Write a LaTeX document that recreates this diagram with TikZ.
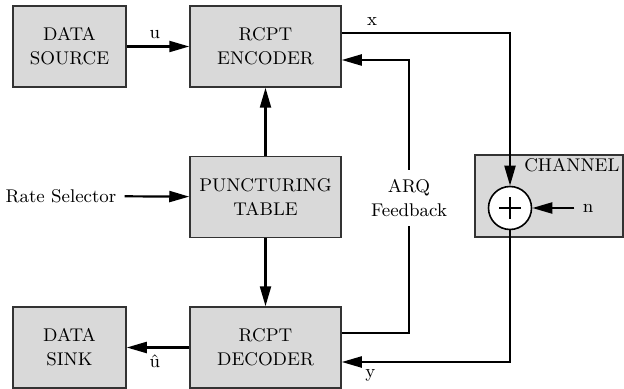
\documentclass[tikz,border=0pt]{standalone}
\usepackage{amsmath}
\usepackage{xcolor}
\usepackage{tikz}
\usetikzlibrary{arrows.meta}
\definecolor{boxgray}{RGB}{217,217,217}

\begin{document}
\begin{tikzpicture}[x=0.5pt,y=-0.5pt,
                    font=\fontsize{9.2}{12}\selectfont,
                    blk/.style={draw=black!80, fill=boxgray, line width=0.75pt, minimum height=40.5pt, align=center, inner sep=0pt},
                    arr/.style={line width=1.1pt, -{Triangle[length=10pt,width=5.5pt]}},
                    ln/.style={line width=1.1pt}]
                    \useasboundingbox (0,0) rectangle (624,389);

                    \node[blk, minimum width=56.5pt] (src) at (69.5,46.5) {DATA\\SOURCE};
                    \node[blk, minimum width=75.5pt] (enc) at (265.5,46.5) {RCPT\\ENCODER};
                    \node[blk, minimum width=75.5pt] (punc) at (265.5,197) {PUNCTURING\\TABLE};
                    \node[blk, minimum width=75.5pt] (dec) at (265.5,347.5) {RCPT\\DECODER};
                    \node[blk, minimum width=56.5pt] (sink) at (69.5,347.5) {DATA\\SINK};
                    \node[blk, minimum width=74pt, minimum height=41pt] (chan) at (549,196) {};
                    \node[anchor=north east, inner sep=2pt] (chlab) at (chan.north east) {CHANNEL};
                    \node[draw, fill=white, circle, line width=0.8pt, minimum size=21.5pt, inner sep=0pt] (sum) at (510,208) {};
                    \draw[line width=0.8pt] ([xshift=-5.5pt]sum.center) -- ([xshift=5.5pt]sum.center);
                    \draw[line width=0.8pt] ([yshift=-5.5pt]sum.center) -- ([yshift=5.5pt]sum.center);

                    \node[inner sep=4pt] (rate) at (61,196) {Rate Selector};
                    \node[align=center, inner ysep=4.5pt] (arq) at (409,198) {ARQ\\Feedback};
                    \node[inner sep=4pt] (n) at (588,208) {n};

                    % forward path
                    \draw[arr] (src) -- node[above, pos=0.45] (ulab) {u} (enc);
                    \draw[arr] ([yshift=6.75pt]enc.east) -| node[above, pos=0.09] (xlab) {x} (sum.north);
                    \draw[arr] (n) -- (sum);
                    \draw[arr] (sum.south) |- node[below, pos=0.915] (ylab) {y} ([yshift=-7.25pt]dec.east);
                    \draw[arr] (dec) -- node[below, pos=0.55] (uhat) {\^{u}} (sink);

                    % puncturing
                    \draw[arr] (rate) -- (punc);
                    \draw[arr] (punc) -- (enc);
                    \draw[arr] (punc) -- (dec);

                    % feedback
                    \draw[ln] ([yshift=7.25pt]dec.east) -| (arq.south);
                    \draw[arr] (arq.north) |- ([yshift=-6.75pt]enc.east);
                \end{tikzpicture}
\end{document}
